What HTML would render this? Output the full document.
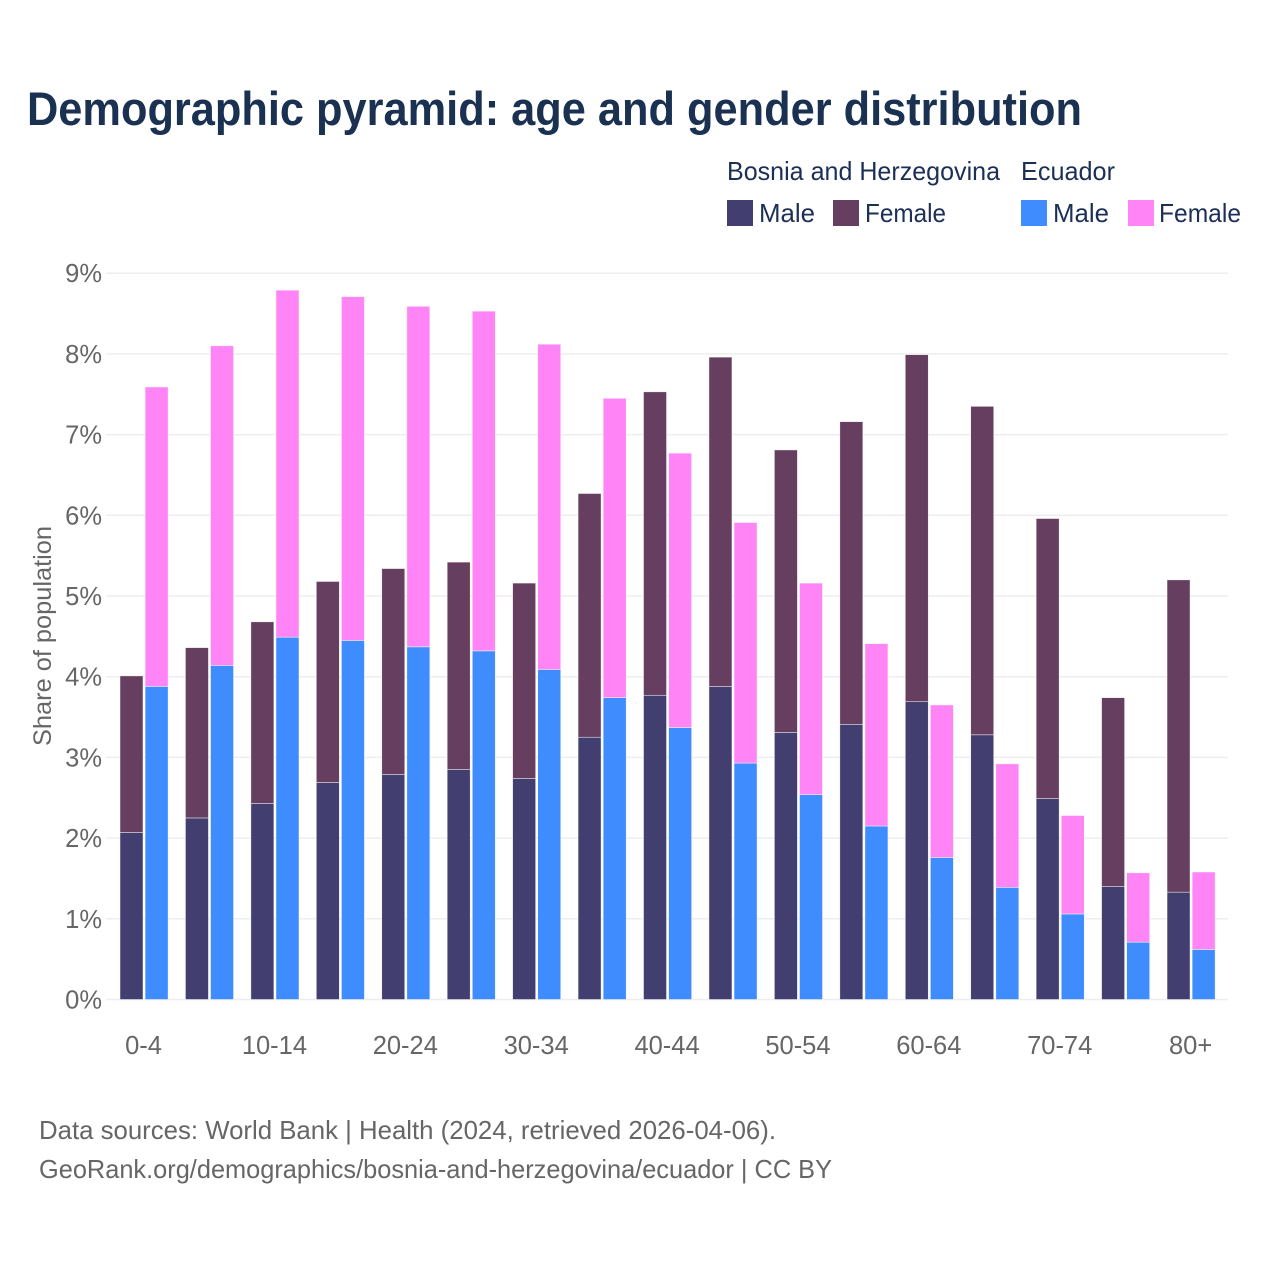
<!DOCTYPE html>
<html lang="en">
<head>
<meta charset="utf-8">
<title>Demographic pyramid</title>
<style>
html,body{margin:0;padding:0;background:#fff;}
svg{display:block;font-family:"Liberation Sans",sans-serif;}
</style>
</head>
<body>
<svg id="chart" width="1280" height="1280" viewBox="0 0 1280 1280" xmlns="http://www.w3.org/2000/svg">
  <rect x="0" y="0" width="1280" height="1280" fill="#ffffff"/>
  <text x="27" y="125" font-size="47" font-weight="700" fill="#1a3152" textLength="1055" lengthAdjust="spacingAndGlyphs">Demographic pyramid: age and gender distribution</text>

  <g font-size="26" fill="#1c2f55">
    <text x="727" y="180" textLength="273" lengthAdjust="spacingAndGlyphs">Bosnia and Herzegovina</text>
    <text x="1021" y="180" textLength="94" lengthAdjust="spacingAndGlyphs">Ecuador</text>
    <rect x="727" y="200" width="26" height="26" fill="#423f70"/>
    <text x="759" y="222" textLength="56" lengthAdjust="spacingAndGlyphs">Male</text>
    <rect x="833" y="200" width="26" height="26" fill="#663f60"/>
    <text x="865" y="222" textLength="81" lengthAdjust="spacingAndGlyphs">Female</text>
    <rect x="1021" y="200" width="26" height="26" fill="#3f8cff"/>
    <text x="1053" y="222" textLength="56" lengthAdjust="spacingAndGlyphs">Male</text>
    <rect x="1128" y="200" width="26" height="26" fill="#ff85f7"/>
    <text x="1159" y="222" textLength="82" lengthAdjust="spacingAndGlyphs">Female</text>
  </g>

  <text transform="translate(51,636) rotate(-90)" text-anchor="middle" font-size="25" fill="#666666" textLength="220" lengthAdjust="spacingAndGlyphs">Share of population</text>

  <g id="grid"></g>
  <g id="yticks"></g>
  <g id="bars"></g>
  <g id="xticks"></g>

  <g font-size="26" fill="#666666">
    <text x="39" y="1139" textLength="737" lengthAdjust="spacingAndGlyphs">Data sources: World Bank | Health (2024, retrieved 2026-04-06).</text>
    <text x="39" y="1178" textLength="793" lengthAdjust="spacingAndGlyphs">GeoRank.org/demographics/bosnia-and-herzegovina/ecuador | CC BY</text>
  </g>
</svg>
<script>
const ageGroups = ["0-4","5-9","10-14","15-19","20-24","25-29","30-34","35-39","40-44","45-49","50-54","55-59","60-64","65-69","70-74","75-79","80+"];
const bosniaMale = [2.07,2.25,2.43,2.69,2.79,2.85,2.74,3.25,3.77,3.88,3.31,3.41,3.69,3.28,2.49,1.40,1.33];
const bosniaFemale = [1.94,2.11,2.25,2.49,2.55,2.57,2.42,3.02,3.76,4.08,3.50,3.75,4.30,4.07,3.47,2.34,3.87];
const ecuadorMale = [3.88,4.14,4.49,4.45,4.37,4.32,4.09,3.74,3.37,2.93,2.54,2.15,1.76,1.39,1.06,0.71,0.62];
const ecuadorFemale = [3.71,3.96,4.30,4.26,4.22,4.21,4.03,3.71,3.40,2.98,2.62,2.26,1.89,1.53,1.22,0.86,0.96];
const yTickValues = [0,1,2,3,4,5,6,7,8,9];
const xTickLabels = ["0-4","10-14","20-24","30-34","40-44","50-54","60-64","70-74","80+"];

const NS = "http://www.w3.org/2000/svg";
const plotLeft = 106, plotRight = 1228;
const baseY = 999.5, unitY = 80.7;
const firstGroupX = 120, groupStep = 65.44, barW = 23, barGap = 2.1;
const yScale = v => baseY - v * unitY;
const xBand = i => firstGroupX + i * groupStep;

function make(tag, parent, attrs, text) {
  const el = document.createElementNS(NS, tag);
  for (const k in attrs) el.setAttribute(k, attrs[k]);
  if (text !== undefined) el.textContent = text;
  parent.appendChild(el);
  return el;
}

const grid = document.getElementById("grid");
const yticks = document.getElementById("yticks");
yTickValues.forEach(v => {
  const line = make("line", grid, {x1: plotLeft, x2: plotRight, y1: yScale(v), y2: yScale(v), stroke: "#eeeeee", "stroke-width": 1.5});
  
  
  const label = make("text", yticks, {x: 102, y: yScale(v) + 9, "text-anchor": "end", "font-size": 25.5, fill: "#666666"}, v + "%");
  
  
});

const bars = document.getElementById("bars");
function segment(x, bottom, value, color, name) {
  const r = make("rect", bars, {
    x: x, y: yScale(bottom + value), width: barW, height: value * unitY,
    fill: color, stroke: "#ffffff", "stroke-opacity": 0.75, "stroke-width": 0.6
  });
  
  
}
ageGroups.forEach((age, i) => {
  const x0 = xBand(i), x1 = x0 + barW + barGap;
  segment(x0, 0, bosniaMale[i], "#423f70", "bar-bosnia-male-" + age);
  segment(x0, bosniaMale[i], bosniaFemale[i], "#663f60", "bar-bosnia-female-" + age);
  segment(x1, 0, ecuadorMale[i], "#3f8cff", "bar-ecuador-male-" + age);
  segment(x1, ecuadorMale[i], ecuadorFemale[i], "#ff85f7", "bar-ecuador-female-" + age);
});

const xticks = document.getElementById("xticks");
xTickLabels.forEach(lbl => {
  const i = ageGroups.indexOf(lbl);
  const t = make("text", xticks, {x: xBand(i) + barW + barGap / 2 - 0.5, y: 1054, "text-anchor": "middle", "font-size": 25.5, fill: "#666666"}, lbl);
  
  
});
</script>
</body>
</html>
